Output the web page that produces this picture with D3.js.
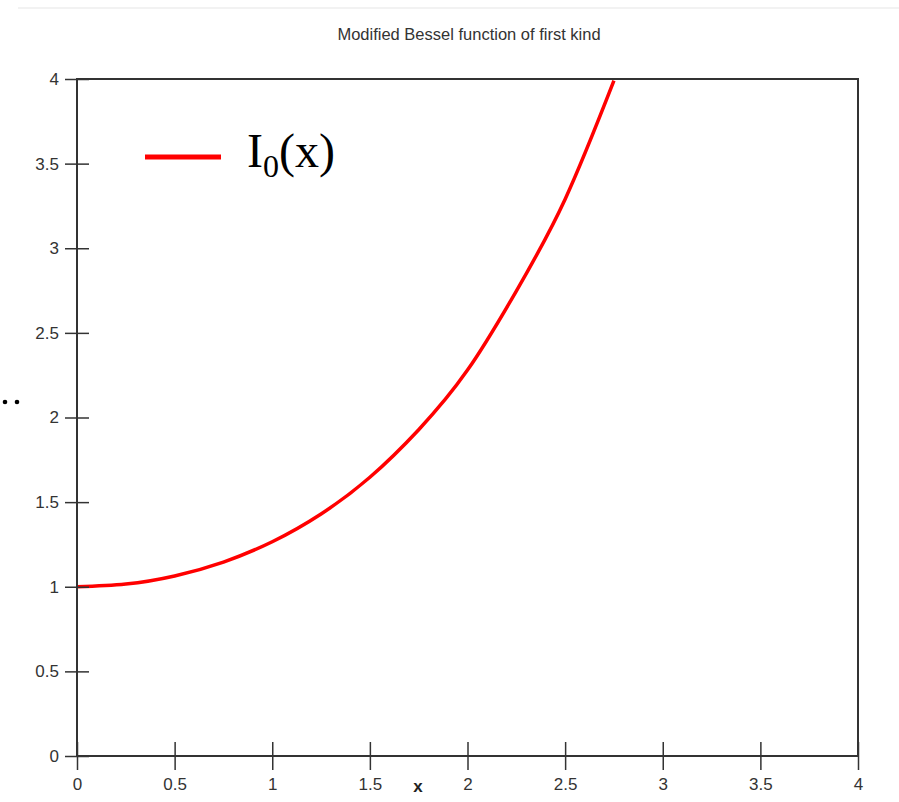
<!DOCTYPE html>
<html>
<head>
<meta charset="utf-8">
<script src="https://cdn.jsdelivr.net/npm/d3@7"></script>
<style>
  body { margin: 0; background: #fff; }
  svg { display: block; }
</style>
</head>
<body>
<div class="chart"></div>
<script>
'use strict';

// values
var xValues = [0, 0.25, 0.5, 0.75, 1, 1.25, 1.5, 1.75, 2, 2.25, 2.5, 2.75];
var i0Values = [1.000, 1.016, 1.064, 1.146, 1.266, 1.430, 1.647, 1.928, 2.280, 2.747, 3.290, 3.990];

var xTicks = [0, 0.5, 1, 1.5, 2, 2.5, 3, 3.5, 4];
var yTicks = [0, 0.5, 1, 1.5, 2, 2.5, 3, 3.5, 4];

var titleText = 'Modified Bessel function of first kind';
var xLabel = 'x';

var width = 899,
    height = 802;

var plot = { left: 77, right: 858, top: 79, bottom: 756 };

var labelFont = 'Liberation Sans, Arial, sans-serif';

var svg = d3.select('.chart')
  .append('svg')
  .attr('width', width)
  .attr('height', height);

var x = d3.scaleLinear().domain([0, 4]).range([plot.left, plot.right]);
var y = d3.scaleLinear().domain([0, 4]).range([plot.bottom, plot.top]);

// faint line along the top of the page
svg.append('line')
  .attr('x1', 18).attr('x2', width)
  .attr('y1', 8).attr('y2', 8)
  .attr('stroke', '#eeeeee')
  .attr('stroke-width', 1.5);

// title
svg.append('text')
  .attr('x', 469)
  .attr('y', 40)
  .attr('text-anchor', 'middle')
  .attr('font-family', labelFont)
  .attr('font-size', 16.5)
  .attr('fill', '#333')
  .text(titleText);

svg.append('defs').append('clipPath')
  .attr('id', 'plot-clip')
  .append('rect')
  .attr('x', plot.left)
  .attr('y', plot.top)
  .attr('width', plot.right - plot.left)
  .attr('height', plot.bottom - plot.top);

// the curve
var points = xValues.map(function (d, i) { return [d, i0Values[i]]; });

var line = d3.line()
  .x(function (d) { return x(d[0]); })
  .y(function (d) { return y(d[1]); })
  .curve(d3.curveNatural);

svg.append('path')
  .datum(points)
  .attr('clip-path', 'url(#plot-clip)')
  .attr('d', line)
  .attr('fill', 'none')
  .attr('stroke', '#ff0000')
  .attr('stroke-width', 3.5);

// frame
svg.append('rect')
  .attr('x', plot.left)
  .attr('y', plot.top)
  .attr('width', plot.right - plot.left)
  .attr('height', plot.bottom - plot.top)
  .attr('fill', 'none')
  .attr('stroke', '#333')
  .attr('stroke-width', 2);

// x axis, ticks cross the line
var xAxis = d3.axisBottom(x)
  .tickValues(xTicks)
  .tickSize(14)
  .tickPadding(8)
  .tickFormat(d3.format('~g'));

var gx = svg.append('g')
  .attr('transform', 'translate(0,' + plot.bottom + ')')
  .call(xAxis);

gx.select('.domain').remove();
gx.selectAll('.tick line')
  .attr('y1', -14)
  .attr('stroke', '#333')
  .attr('stroke-width', 1.5);
gx.selectAll('.tick text')
  .attr('font-family', labelFont)
  .attr('font-size', 17)
  .attr('fill', '#333');

// y axis
var yAxis = d3.axisLeft(y)
  .tickValues(yTicks)
  .tickSize(12)
  .tickPadding(6)
  .tickFormat(d3.format('~g'));

var gy = svg.append('g')
  .attr('transform', 'translate(' + plot.left + ',0)')
  .call(yAxis);

gy.select('.domain').remove();
gy.selectAll('.tick line')
  .attr('x1', 12)
  .attr('stroke', '#333')
  .attr('stroke-width', 1.5);
gy.selectAll('.tick text')
  .attr('font-family', labelFont)
  .attr('font-size', 17)
  .attr('fill', '#333');

// axis label
svg.append('text')
  .attr('x', 418)
  .attr('y', 792)
  .attr('text-anchor', 'middle')
  .attr('font-family', labelFont)
  .attr('font-size', 17)
  .attr('font-weight', 'bold')
  .attr('fill', '#222')
  .text(xLabel);

// legend
svg.append('line')
  .attr('x1', 145).attr('x2', 221)
  .attr('y1', 157).attr('y2', 157)
  .attr('stroke', '#ff0000')
  .attr('stroke-width', 5);

var legendText = svg.append('text')
  .attr('x', 247)
  .attr('y', 167)
  .attr('font-family', 'Liberation Serif, Times New Roman, serif')
  .attr('font-size', 48)
  .attr('fill', '#000');

legendText.append('tspan').text('I');
legendText.append('tspan')
  .attr('font-size', 32)
  .attr('dy', 10)
  .text('0');
legendText.append('tspan')
  .attr('dy', -10)
  .text('(x)');

// stray dots at the left edge
svg.selectAll('circle.dot')
  .data([5, 17])
  .enter()
  .append('circle')
  .attr('class', 'dot')
  .attr('cx', function (d) { return d; })
  .attr('cy', 402)
  .attr('r', 2.3)
  .attr('fill', '#000');
</script>
</body>
</html>
